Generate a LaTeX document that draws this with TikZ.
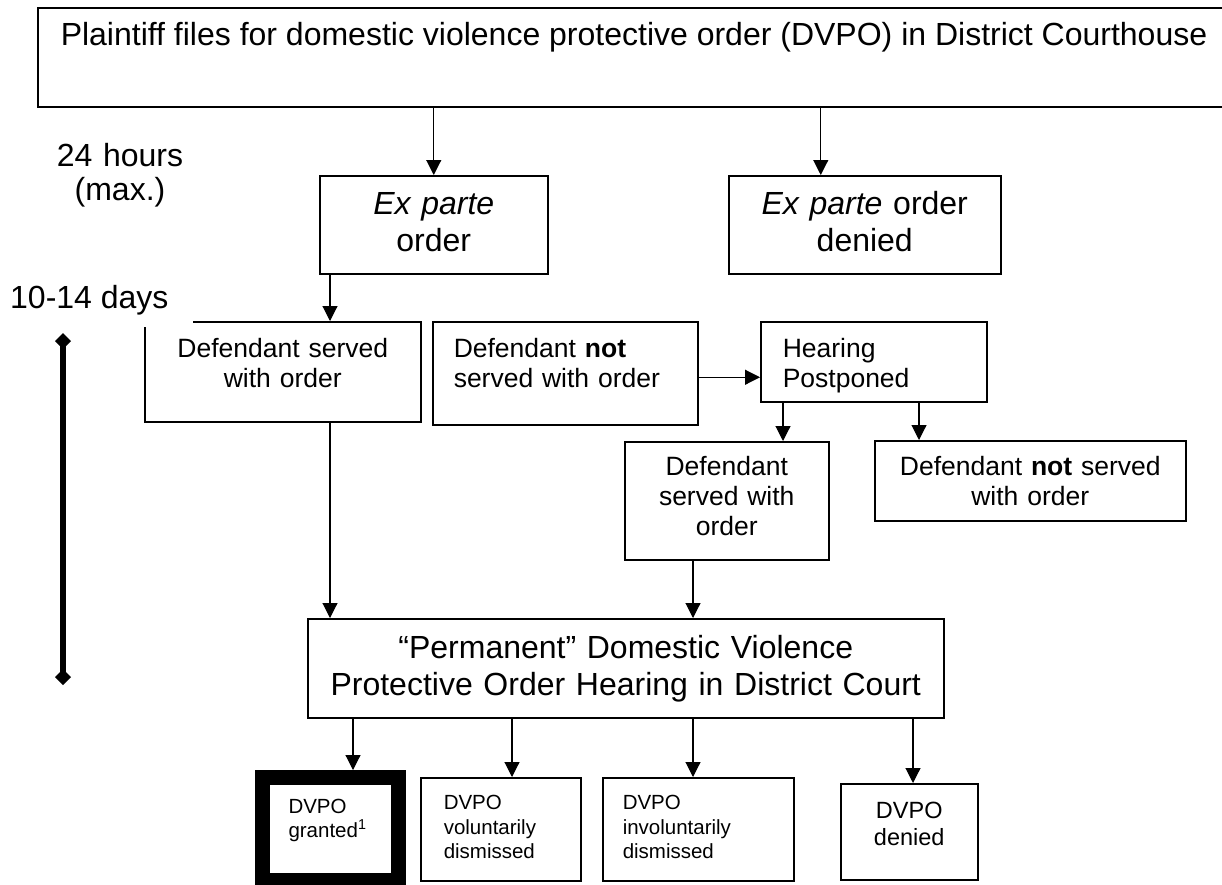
\documentclass[tikz,border=0pt]{standalone}
\usepackage{fontspec}
\setmainfont{Liberation Sans}
\usetikzlibrary{arrows.meta}

\tikzset{
  box/.style={draw, line width=1.5pt, fill=white, inner ysep=0pt, anchor=north west},
  big/.style={font=\fontsize{32}{37}\selectfont},
  mid/.style={font=\fontsize{26.5}{30}\selectfont},
  small/.style={font=\fontsize{20.5}{24.5}\selectfont},
  arr/.style={line width=1.1pt, -{Triangle[length=15pt,width=15pt]}},
  tline/.style={line width=6pt, {Diamond[length=16pt,width=16pt]}-{Diamond[length=16pt,width=16pt]}},
}

\begin{document}
\begin{tikzpicture}[x=1pt,y=-1pt]
\useasboundingbox (0,0) rectangle (1222,884);
\clip (0,0) rectangle (1222,884);

\node[box,big,inner xsep=23pt,text height=38pt,text depth=61pt] (file) at (37,7) {Plaintiff files for domestic violence protective order (DVPO) in District Courthouse};

\node[box,big,inner xsep=0pt,text width=228pt,align=center,text height=39pt,text depth=59pt] (exparte) at (319,175) {\textit{Ex parte}\\order};
\node[box,big,inner xsep=0pt,text width=272pt,align=center,text height=39pt,text depth=59pt] (denied) at (728,175) {\textit{Ex parte} order\\denied};

\node[box,mid,inner xsep=0pt,text width=276pt,align=center,text height=36pt,text depth=64pt] (served) at (144,321) {Defendant served\\with order};
\node[box,mid,inner xsep=21pt,text width=223pt,align=left,text height=36pt,text depth=67pt] (notserved) at (432,321) {Defendant \textbf{not}\\served with order};
\node[box,mid,inner xsep=22pt,text width=182pt,align=left,text height=36pt,text depth=44pt] (hearing) at (760,321) {Hearing\\Postponed};
\node[box,mid,inner xsep=0pt,text width=204pt,align=center,text height=34pt,text depth=84pt] (served2) at (624,441) {Defendant\\served with\\order};
\node[box,mid,inner xsep=0pt,text width=311pt,align=center,text height=35pt,text depth=45pt] (notserved2) at (874,440) {Defendant \textbf{not} served\\with order};

\node[box,big,inner xsep=0pt,text width=636pt,align=center,text height=40pt,text depth=59pt] (perm) at (307,618) {“Permanent” Domestic Violence\\Protective Order Hearing in District Court};

\node[box,small,line width=15pt,inner xsep=26pt,text width=84pt,align=left,text height=35.5pt,text depth=67.5pt] (granted) at (255,770) {DVPO\\granted\textsuperscript{1}};
\node[box,small,inner xsep=23pt,text width=114pt,align=left,text height=32pt,text depth=71pt] (vol) at (420,777) {DVPO\\voluntarily\\dismissed};
\node[box,small,inner xsep=20pt,text width=151pt,align=left,text height=32pt,text depth=71pt] (invol) at (602,777) {DVPO\\involuntarily\\dismissed};
\node[box,font=\fontsize{23.5}{27}\selectfont,inner xsep=0pt,text width=137pt,align=center,text height=35pt,text depth=61pt] (denied2) at (840,783) {DVPO\\denied};

% time marks
\node[font=\fontsize{32}{34}\selectfont,align=center,text width=170pt,text height=23pt,inner sep=0pt,anchor=north] (hours) at (120,143) {24 hours\\(max.)};
\node[font=\fontsize{32}{37}\selectfont,fill=white,inner xsep=24pt,inner ysep=12pt,anchor=base west] (days) at (-14,308) {10-14 days};
\coordinate (tl0) at (63,333);
\coordinate (tl1) at (63,685);
\draw[tline] (tl0) -- (tl1);

% arrows
\draw[arr] (file.south -| exparte.north) -- (exparte.north);
\coordinate (d1) at ([xshift=-44pt]denied.north);
\draw[arr] (file.south -| d1) -- (d1);
\coordinate (c1) at ([xshift=11pt]exparte.south west);
\draw[arr] (c1) -- (c1 |- served.north);
\draw[arr] (c1 |- served.south) -- (c1 |- perm.north);
\draw[arr] ([yshift=-4pt]notserved.east) -- ([yshift=-4pt]notserved.east -| hearing.west);
\coordinate (h1) at ([xshift=23pt]hearing.south west);
\coordinate (h2) at ([xshift=159pt]hearing.south west);
\draw[arr] (h1) -- (h1 |- served2.north);
\draw[arr] (h2) -- (h2 |- notserved2.north);
\coordinate (c3) at ([xshift=69pt]served2.south west);
\draw[arr] (c3) -- (c3 |- perm.north);
\foreach \dx/\to in {46/granted, 205/vol, 386/invol, 606/denied2}
  \draw[arr] ([xshift=\dx pt]perm.south west) -- ([xshift=\dx pt]perm.south west |- \to.north);

\end{tikzpicture}
\end{document}
